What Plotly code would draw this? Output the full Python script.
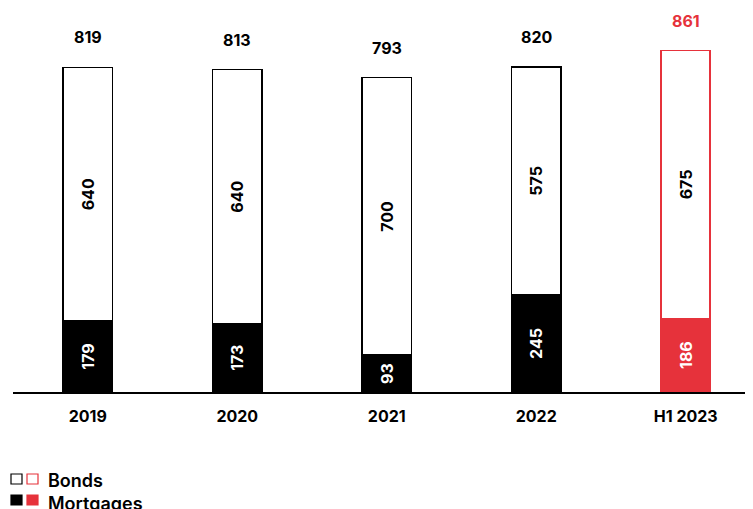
import plotly.graph_objects as go

categories = ["2019", "2020", "2021", "2022", "H1 2023"]
bonds = [640, 640, 700, 575, 675]
mortgages = [179, 173, 93, 245, 186]
totals = [819, 813, 793, 820, 861]

RED = "#E6323B"
BLACK = "#000000"
FONT = "Inter"

OFF = 8  # browser body margin
W, H = 753 - OFF, 509 - OFF
# page-pixel geometry of the plot area
PL, PR, PB = 13, 753, 392
ML, MR, MT, MB = PL - OFF, 0, 0, H - (PB - OFF)
PW, PH = W - ML - MR, H - MT - MB
SCALE = 0.3964  # px per unit
YMAX = PH / SCALE

def px(x):
    return (x - OFF - ML) / PW

def py(y):
    return (MT + PH - (y - OFF)) / PH

mort_fill = [BLACK] * 4 + [RED]
bond_line = [BLACK] * 4 + [RED]

fig = go.Figure()
fig.add_trace(go.Bar(
    x=categories, y=mortgages, name="Mortgages",
    marker=dict(color=mort_fill, line=dict(color=mort_fill, width=1.5)),
    text=[str(v) for v in mortgages], textposition="inside", textangle=-90,
    insidetextanchor="middle", constraintext="none",
    textfont=dict(family=FONT, size=16, color="white", weight="bold"),
    width=0.328, showlegend=False, hoverinfo="skip",
))
fig.add_trace(go.Bar(
    x=categories, y=bonds, name="Bonds",
    marker=dict(color="white", line=dict(color=bond_line, width=1.5)),
    text=[str(v) for v in bonds], textposition="inside", textangle=-90,
    insidetextanchor="middle", constraintext="none",
    textfont=dict(family=FONT, size=16, color="black", weight="bold"),
    width=0.328, showlegend=False, hoverinfo="skip",
))

for i, t in enumerate(totals):
    fig.add_annotation(
        x=i, y=t, text=str(t), showarrow=False, yshift=30,
        font=dict(family=FONT, size=16, color=RED if i == 4 else BLACK, weight="bold"),
    )

# custom legend
legend_rows = [("Bonds", 479, 480), ("Mortgages", 500, 503)]
for j, (label, ys, yt) in enumerate(legend_rows):
    for k, col in enumerate([BLACK, RED]):
        x0 = 11 + k * 16
        fill = "white" if j == 0 else col
        fig.add_shape(type="rect", xref="paper", yref="paper",
                      x0=px(x0), x1=px(x0 + 11), y0=py(ys - 5), y1=py(ys + 5),
                      line=dict(color=col, width=1.2), fillcolor=fill)
    fig.add_annotation(xref="paper", yref="paper", x=px(46), y=py(yt),
                       xanchor="left", yanchor="middle", text=label, showarrow=False,
                       font=dict(family=FONT, size=18, color="black", weight=600))

fig.update_layout(
    width=W, height=H, barmode="stack",
    margin=dict(l=ML, r=MR, t=MT, b=MB),
    paper_bgcolor="white", plot_bgcolor="white",
    xaxis=dict(type="category", range=[-0.5, 4.45], showline=True, linecolor="black", linewidth=1.5,
               ticks="outside", ticklen=9, tickcolor="rgba(0,0,0,0)",
               tickfont=dict(family=FONT, size=16, color="black", weight="bold"),
               showgrid=False, zeroline=False),
    yaxis=dict(range=[0, YMAX], visible=False, showgrid=False, zeroline=False),
)

fig.write_html("out.html")
